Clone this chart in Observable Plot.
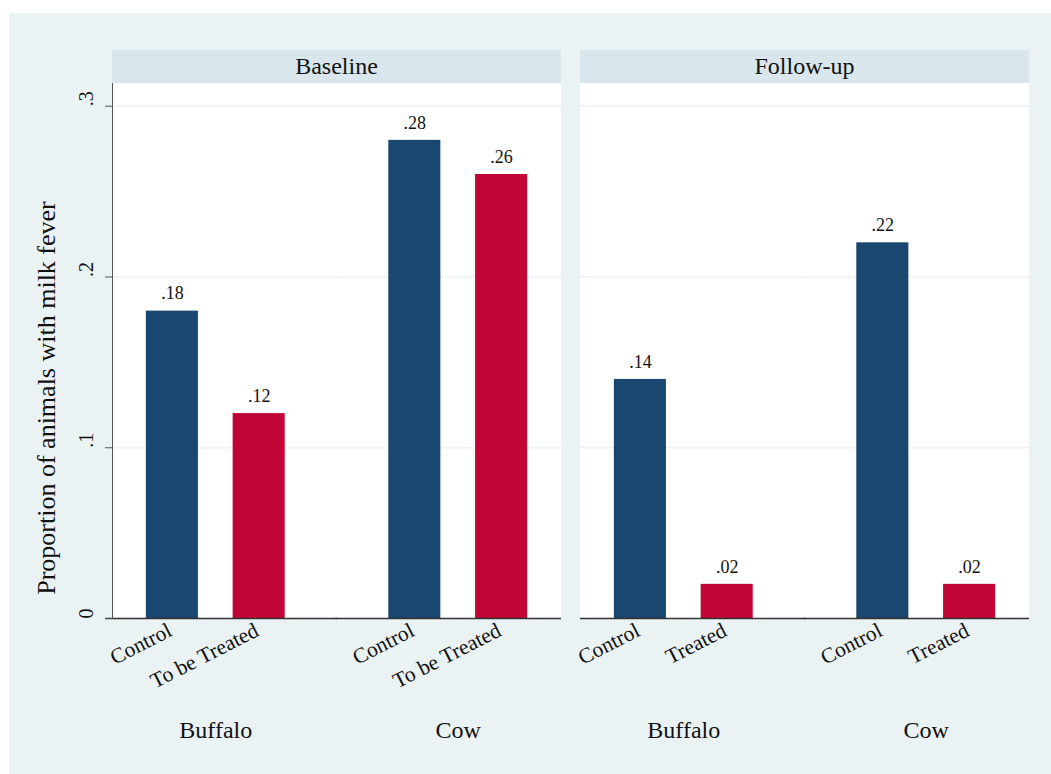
<!DOCTYPE html>
<html>
<head>
<meta charset="utf-8">
<script src="https://cdn.jsdelivr.net/npm/d3@7"></script>
<script src="https://cdn.jsdelivr.net/npm/@observablehq/plot@0.6"></script>
<style>
  body { margin: 0; background: #ffffff; width: 1051px; height: 774px; overflow: hidden; position: relative; }
  .abs { position: absolute; }
  .strip { position: absolute; background: #D9E6EB; color: #111; font-family: "Liberation Serif", "Times New Roman", serif; font-size: 24px; display: flex; align-items: center; justify-content: center; }
  svg { overflow: visible; }
</style>
</head>
<body>
<div class="abs" style="left:9px;top:13px;width:1042px;height:761px;background:#EAF2F3"></div>
<div class="strip" style="left:112px;top:50px;width:449px;height:33px">Baseline</div>
<div class="strip" style="left:580px;top:50px;width:449px;height:33px">Follow-up</div>
<div class="abs" style="left:112px;top:83px;width:449px;height:535px;background:#fff"></div>
<div class="abs" style="left:580px;top:83px;width:449px;height:535px;background:#fff"></div>
<div id="p1" class="abs" style="left:9px;top:83px"></div>
<div id="p2" class="abs" style="left:560px;top:83px"></div>
<div class="abs" style="left:47px;top:398px;transform:translate(-50%,-50%) rotate(-90deg);white-space:nowrap;font-family:'Liberation Serif','Times New Roman',serif;font-size:26px;color:#111">Proportion of animals with milk fever</div>
<script>
const species = ["Buffalo", "Cow"];
const baselineGroups = ["Control", "To be Treated"];
const followupGroups = ["Control", "Treated"];
const baselineBuffalo = [0.18, 0.12];
const baselineCow = [0.28, 0.26];
const followupBuffalo = [0.14, 0.02];
const followupCow = [0.22, 0.02];
const yTicks = [0, 0.1, 0.2, 0.3];
const yTickLabels = ["0", ".1", ".2", ".3"];
const barColors = ["#1A476F", "#C10534"];

const serif = "'Liberation Serif', 'Times New Roman', serif";
const fmt = v => v.toFixed(2).replace(/^0/, "");

function rows(groups, buf, cow) {
  const vals = [buf, cow];
  return species.flatMap((s, i) => groups.map((g, j) => ({species: s, group: g, value: vals[i][j]})));
}

function panel(groups, data, withY, width, marginLeft, marginRight) {
  const marks = [
    Plot.ruleY(yTicks.slice(1), {stroke: "#EAF2F3", strokeWidth: 1.5, insetLeft: -19, insetRight: -19}),
    Plot.barY(data, {fx: "species", x: "group", y: "value", fill: "group"}),
    Plot.text(data, {fx: "species", x: "group", y: "value", text: d => fmt(d.value), dy: -17.5, fontSize: 18, fill: "#111"}),
    Plot.text(data, {fx: "species", x: "group", text: "group", frameAnchor: "bottom", rotate: -27, textAnchor: "end", lineAnchor: "top", dx: -6, dy: 3, fontSize: 21.5, fill: "#111"}),
    Plot.text(species, {fx: d => d, text: d => d, frameAnchor: "bottom", lineAnchor: "middle", dy: 112, fontSize: 24, fill: "#111"}),
    Plot.ruleY([0], {fx: () => species[0], stroke: "#333", strokeWidth: 1.5, insetRight: -19, insetLeft: withY ? -7 : 0}),
    Plot.ruleY([0], {fx: () => species[1], stroke: "#333", strokeWidth: 1.5, insetLeft: -19})
  ];
  if (withY) {
    marks.push(
      Plot.frame({anchor: "left", facetAnchor: "left", stroke: "#555"}),
      Plot.axisY({ticks: yTicks, tickSize: 7, tickFormat: () => "", label: null, stroke: "#555"}),
      Plot.text(yTicks, {fx: () => species[0], y: d => d, text: (d, i) => yTickLabels[i], frameAnchor: "left", dx: -26, rotate: -90, fontSize: 20, fill: "#111"})
    );
  }
  return Plot.plot({
    width, height: 691,
    marginTop: 0, marginBottom: 156, marginLeft, marginRight,
    style: {background: "none", fontFamily: serif, overflow: "visible", color: "#111"},
    fx: {domain: species, paddingInner: 0.148, paddingOuter: 0, axis: null, round: false},
    x: {domain: groups, paddingInner: 0.4, paddingOuter: 0.39, axis: null, round: false},
    y: {domain: [0, 0.3133], axis: null},
    color: {domain: groups, range: barColors},
    marks
  });
}

document.getElementById("p1").appendChild(panel(baselineGroups, rows(baselineGroups, baselineBuffalo, baselineCow), true, 552, 103, 0));
document.getElementById("p2").appendChild(panel(followupGroups, rows(followupGroups, followupBuffalo, followupCow), false, 489, 20, 20));
</script>
</body>
</html>
